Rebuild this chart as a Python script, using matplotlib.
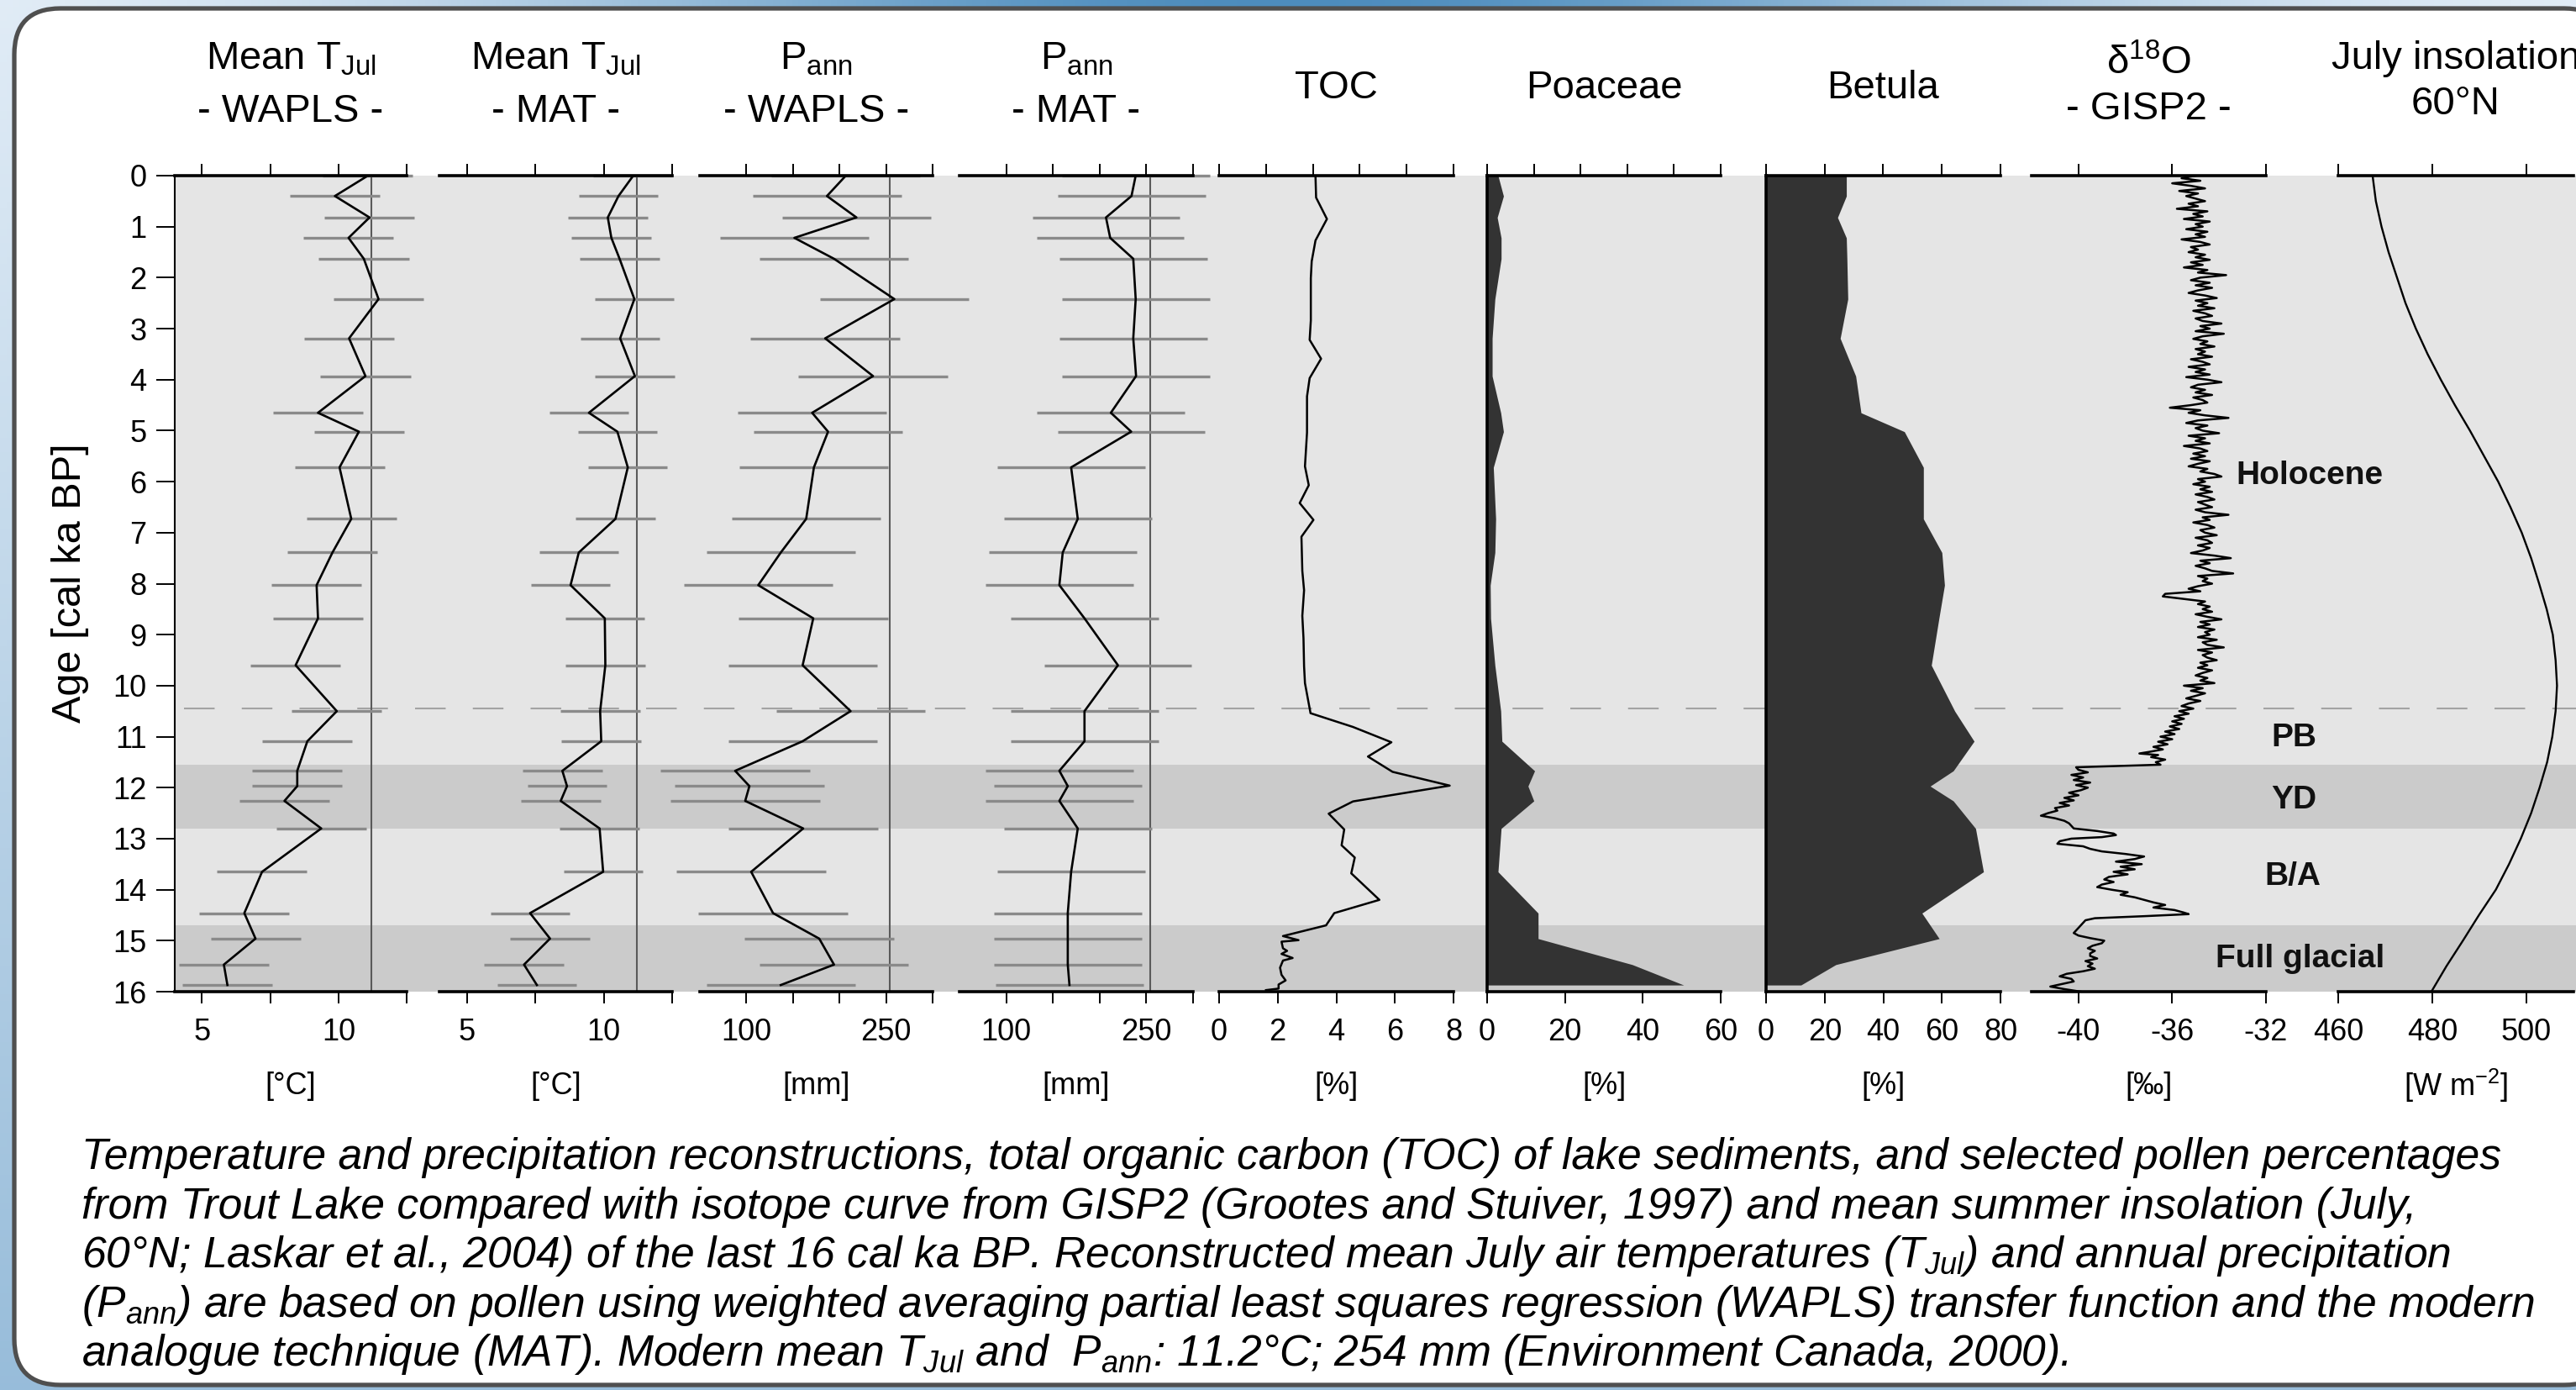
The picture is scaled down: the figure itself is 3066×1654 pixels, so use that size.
import numpy as np
import matplotlib
matplotlib.use("Agg")
import matplotlib.pyplot as plt
from matplotlib.patches import FancyBboxPatch

plt.rcParams["font.family"] = ["Liberation Sans", "DejaVu Sans"]
plt.rcParams["mathtext.fontset"] = "custom"
plt.rcParams["mathtext.rm"] = "Liberation Sans"
plt.rcParams["mathtext.it"] = "Liberation Sans:italic"
plt.rcParams["mathtext.bf"] = "Liberation Sans:bold"
plt.rcParams["mathtext.default"] = "regular"

# ---------------- data ----------------
# sample ages (cal ka BP) of the pollen samples / reconstructions
ages_recon = [0.0, 0.40, 0.82, 1.22, 1.63, 2.42, 3.19, 3.93, 4.65, 5.02, 5.72, 6.73, 7.39, 8.03,
              8.68, 9.60, 10.50, 11.09, 11.67, 11.97, 12.26, 12.80, 13.65, 14.46, 14.96, 15.47, 15.87]
tjul_wapls = [11.08, 9.87, 11.14, 10.37, 10.93, 11.47, 10.39, 10.99, 9.25, 10.75, 10.04, 10.47, 9.78, 9.20,
              9.25, 8.43, 9.94, 8.86, 8.49, 8.49, 8.02, 9.37, 7.20, 6.55, 6.96, 5.80, 5.93]
tjul_mat = [11.08, 10.54, 10.15, 10.28, 10.58, 11.12, 10.60, 11.14, 9.46, 10.50, 10.88, 10.43, 9.09, 8.79,
            10.04, 10.06, 9.87, 9.91, 8.49, 8.66, 8.43, 9.85, 9.98, 7.31, 8.04, 7.09, 7.56]
pann_wapls = [206.8, 186.5, 218.2, 151.5, 194.1, 258.9, 184.6, 236.0, 170.6, 187.7, 172.5, 164.2, 136.9, 112.7,
              171.8, 160.4, 211.9, 160.4, 87.9, 103.2, 98.7, 161.0, 105.1, 128.6, 178.2, 194.1, 136.9]
pann_mat = [238.6, 234.1, 206.8, 211.3, 236.0, 238.6, 236.0, 239.0, 212.0, 233.8, 169.5, 176.6, 160.5, 156.9,
            183.8, 219.6, 183.8, 183.8, 156.9, 165.9, 156.9, 176.6, 169.5, 165.9, 165.9, 165.9, 167.7]
err_tjul_wapls = 1.65
err_tjul_mat = 1.45
err_pann_wapls = 80.0
err_pann_mat = 79.0
modern_tjul = 11.2
modern_pann = 254.0

toc_age = [0.02, 0.43, 0.85, 1.27, 1.68, 2.01, 2.84, 3.22, 3.59, 3.97, 4.33, 5.04, 5.70, 6.07, 6.42, 6.75,
           7.08, 7.75, 8.13, 8.63, 9.07, 9.62, 9.95, 10.54, 10.81, 11.11, 11.39, 11.69, 11.96, 12.27, 12.51,
           12.82, 13.13, 13.37, 13.68, 14.20, 14.46, 14.70, 14.91, 14.99, 15.02, 15.15, 15.20, 15.26, 15.34,
           15.39, 15.53, 15.67, 15.78, 15.86, 15.94, 15.97]
toc_val = [3.29, 3.31, 3.68, 3.29, 3.16, 3.13, 3.13, 3.09, 3.48, 3.09, 3.00, 3.00, 2.93, 3.06, 2.75, 3.22,
           2.81, 2.84, 2.90, 2.84, 2.88, 2.90, 2.93, 3.12, 4.57, 5.88, 5.08, 5.92, 7.87, 4.57, 3.74,
           4.27, 4.18, 4.63, 4.51, 5.47, 3.93, 3.65, 2.18, 2.71, 2.13, 2.18, 2.32, 2.13, 2.51,
           2.18, 2.08, 2.13, 2.27, 2.03, 2.03, 1.60]

poaceae = [2.8, 4.2, 2.6, 3.6, 3.6, 2.0, 1.3, 1.3, 3.5, 4.2, 1.6, 2.2, 2.0, 0.8,
           0.9, 2.0, 3.5, 3.8, 12.2, 10.5, 12.0, 3.6, 2.8, 13.1, 13.1, 37.3, 50.5]
betula = [27.4, 27.4, 24.4, 27.4, 27.6, 27.9, 25.3, 30.6, 32.4, 47.2, 53.7, 53.7, 60.0, 60.9,
          59.0, 56.4, 64.4, 71.0, 63.9, 56.0, 63.9, 71.5, 74.2, 53.2, 59.1, 23.8, 11.9]

# GISP2 d18O: Holocene part sampled every 0.05 ka from 0 ka
d18o_holo_start = 0.0
d18o_holo_step = 0.05
d18o_holo = [
    -35.0, -35.6, -34.8, -36.0, -35.2, -34.6, -35.7, -34.9, -35.4, -35.0,
    -34.6, -35.3, -34.9, -35.8, -34.5, -35.1, -34.7, -35.5, -34.4, -35.0,
    -34.7, -35.4, -34.5, -35.0, -34.6, -35.6, -34.8, -34.4, -35.2, -34.9,
    -35.3, -34.6, -35.0, -34.4, -35.2, -34.7, -35.5, -34.5, -34.9, -33.7,
    -34.8, -35.2, -34.4, -35.0, -34.3, -34.9, -35.3, -34.6, -34.1, -35.0,
    -34.5, -34.9, -34.2, -35.1, -34.6, -34.3, -35.0, -34.7, -33.9, -34.8,
    -34.4, -35.0, -33.8, -34.7, -35.1, -34.5, -34.8, -34.2, -35.0, -34.6,
    -34.9, -34.3, -35.2, -34.7, -34.4, -35.3, -34.6, -35.0, -34.4, -35.4,
    -34.5, -33.9, -34.9, -35.2, -34.6, -35.0, -34.3, -35.1, -34.7, -34.5,
    -35.2, -36.1, -34.8, -35.3, -34.6, -33.6, -34.9, -35.4, -34.5, -35.0,
    -34.7, -34.0, -35.3, -34.6, -35.0, -34.4, -35.5, -34.8, -34.5, -35.1,
    -34.6, -35.2, -34.4, -34.9, -35.3, -34.5, -34.8, -34.2, -33.9, -34.9,
    -34.6, -35.1, -34.4, -34.8, -34.3, -35.0, -34.5, -34.2, -34.9, -34.6,
    -34.3, -35.0, -34.6, -33.6, -34.7, -34.4, -35.1, -34.5, -34.2, -34.8,
    -34.6, -34.1, -35.0, -34.5, -34.3, -34.9, -34.4, -34.7, -35.2, -34.2,
    -33.5, -34.8, -34.4, -35.0, -34.6, -34.3, -33.4, -34.9, -34.5, -34.7,
    -34.3, -34.9, -35.3, -34.8, -36.3, -36.4, -35.5, -34.6, -34.9, -34.4,
    -34.7, -34.3, -35.0, -34.5, -33.9, -34.8, -34.4, -34.9, -34.2, -34.6,
    -34.4, -34.9, -34.1, -34.7, -34.5, -33.8, -34.9, -34.3, -34.7, -34.5,
    -34.1, -34.8, -34.5, -34.9, -34.3, -34.7, -35.0, -34.5, -34.8, -34.2,
    -35.5, -34.7, -35.2, -34.6, -35.0, -35.4, -34.8, -35.3, -35.6]
# GISP2 d18O: late glacial part
d18o_lg_age = [10.45, 10.50, 10.55, 10.60, 10.65, 10.70, 10.75, 10.80, 10.85, 10.90, 10.95, 11.00, 11.05,
               11.10, 11.15, 11.20, 11.25, 11.30, 11.33, 11.36, 11.40, 11.45, 11.50, 11.55, 11.60, 11.65,
               11.70, 11.75, 11.80, 11.85, 11.90, 11.95, 12.00, 12.05, 12.10, 12.15, 12.20, 12.25, 12.30,
               12.35, 12.40, 12.45, 12.50, 12.55, 12.60, 12.65, 12.70, 12.75, 12.80, 12.85, 12.90, 12.93,
               12.97, 13.00, 13.05, 13.10, 13.15, 13.20, 13.25, 13.30, 13.35, 13.40, 13.45, 13.50, 13.55,
               13.60, 13.65, 13.70, 13.75, 13.80, 13.85, 13.90, 13.95, 14.00, 14.05, 14.10, 14.15, 14.20,
               14.25, 14.30, 14.35, 14.40, 14.45, 14.48, 14.52, 14.56, 14.60, 14.65, 14.70, 14.75, 14.80,
               14.85, 14.90, 14.95, 15.00, 15.05, 15.10, 15.15, 15.20, 15.25, 15.30, 15.35, 15.40, 15.45,
               15.50, 15.55, 15.60, 15.65, 15.70, 15.75, 15.80, 15.85, 15.90, 15.95, 16.00]
d18o_lg_val = [-35.1, -35.7, -35.3, -35.9, -35.5, -36.0, -35.6, -36.1, -35.7, -36.3, -35.9, -36.5, -36.0,
               -36.6, -36.2, -36.8, -36.4, -37.0, -37.4, -36.6, -36.9, -36.3, -36.7, -36.5, -40.1, -40.0,
               -39.6, -40.3, -39.8, -40.2, -39.5, -40.1, -39.6, -39.9, -40.4, -40.0, -40.6, -40.2, -40.8,
               -40.4, -41.0, -40.9, -41.3, -41.6, -41.0, -40.6, -40.4, -40.3, -40.2, -39.2, -38.5, -38.4,
               -39.0, -40.3, -40.8, -40.9, -39.8, -39.5, -39.0, -38.0, -37.2, -37.6, -38.4, -37.3, -38.2,
               -37.6, -38.5, -37.9, -38.7, -38.9, -38.5, -39.0, -39.2, -38.6, -37.9, -38.2, -37.6, -37.2,
               -36.8, -36.3, -36.8, -35.9, -35.5, -35.3, -37.2, -39.3, -39.7, -39.8, -39.9, -40.0, -40.1,
               -40.2, -40.0, -39.5, -38.9, -39.0, -39.4, -39.6, -39.3, -39.5, -39.5, -39.2, -39.7, -39.4,
               -39.6, -39.3, -39.8, -40.5, -40.8, -40.3, -40.2, -40.7, -41.2, -40.6, -39.9]

insol_age = [0.0, 0.5, 1.0, 1.5, 2.0, 2.5, 3.0, 3.5, 4.0, 4.5, 5.0, 5.5, 6.0, 6.5, 7.0, 7.5, 8.0,
             8.5, 9.0, 9.5, 10.0, 10.5, 11.0, 11.5, 12.0, 12.5, 13.0, 13.5, 14.0, 14.5, 15.0, 15.5, 16.0]
insol_val = [467.3, 468.0, 469.2, 470.7, 472.5, 474.3, 476.5, 479.0, 481.8, 484.8, 488.0, 491.0, 494.0,
             496.6, 499.0, 501.0, 502.7, 504.3, 505.6, 506.2, 506.5, 506.2, 505.5, 504.4, 502.8, 501.0,
             498.8, 496.3, 493.5, 489.9, 486.5, 483.0, 479.8]

zone_dark = [(11.55, 12.80), (14.70, 16.0)]
dashed_boundary = 10.45
zone_names = ["Holocene", "PB", "YD", "B/A", "Full glacial"]
zone_label_age = [5.89, 11.03, 12.24, 13.74, 15.36]

# ---------------- figure ----------------
W, H, DPI = 3066, 1654, 100
fig = plt.figure(figsize=(W / DPI, H / DPI), dpi=DPI)
fig.patch.set_facecolor("white")

gax = fig.add_axes([0, 0, 1, 1], zorder=-10)
gx = np.linspace(0, 1, 400)
gy = np.linspace(0, 1, 200)
GX, GY = np.meshgrid(gx, gy)
tval = np.clip(0.95 * np.exp(-((GX - 0.5) / 0.3) ** 2) * (1 - GY) + 0.5 * GY, 0, 1)
c_light = np.array([0.92, 0.95, 0.98])
c_dark = np.array([0.27, 0.53, 0.73])
gimg = c_light + (c_dark - c_light) * tval[..., None]
gax.imshow(gimg, extent=[0, 1, 0, 1], aspect="auto", origin="upper")
gax.set_axis_off()

frame = FancyBboxPatch((0.17, 0.06), 30.9, 16.38,
                       boxstyle="round,pad=0,rounding_size=0.55",
                       transform=fig.dpi_scale_trans, facecolor="white",
                       edgecolor="#4f4f4f", linewidth=3.8, zorder=-5)
fig.add_artist(frame)

PT, PB = 209, 1180
BGL, BGR = 208, 3066

bg = fig.add_axes([BGL / W, 1 - PB / H, (BGR - BGL) / W, (PB - PT) / H], zorder=0)
bg.set_xlim(BGL, BGR)
bg.set_ylim(16, 0)
bg.set_axis_off()
bg.axhspan(0, 16, color="#e5e5e5", lw=0)
for z0, z1 in zone_dark:
    bg.axhspan(z0, z1, color="#cbcbcb", lw=0)
bg.axhline(dashed_boundary, xmin=0.004, xmax=1, color="#a3a3a3", lw=1.5, dashes=(17.5, 15.5))

era_x = [2749, 2730, 2730, 2729, 2738]
for name, a, xx in zip(zone_names, zone_label_age, era_x):
    bg.text(xx, a, name, ha="center", va="center", fontsize=28, fontweight="bold", color="#111111")


def add_panel(x0, x1, xlim, bticks, blabels, tticks, left_lw=None):
    ax = fig.add_axes([x0 / W, 1 - PB / H, (x1 - x0) / W, (PB - PT) / H], zorder=2)
    ax.patch.set_visible(False)
    ax.set_xlim(*xlim)
    ax.set_ylim(16, 0)
    for s in ("top", "right"):
        ax.spines[s].set_visible(False)
    if left_lw is None:
        ax.spines["left"].set_visible(False)
    else:
        ax.spines["left"].set_linewidth(left_lw)
    ax.spines["bottom"].set_linewidth(2.6)
    ax.set_xticks(bticks)
    ax.set_xticklabels(blabels)
    ax.tick_params(axis="x", direction="out", length=10, width=1.4, labelsize=26, pad=12)
    ax.tick_params(axis="y", left=False, labelleft=False)
    top = ax.twiny()
    top.set_xlim(*xlim)
    for s in ("bottom", "left", "right"):
        top.spines[s].set_visible(False)
    top.spines["top"].set_linewidth(2.6)
    top.set_xticks(tticks)
    top.set_xticklabels([])
    top.tick_params(axis="x", direction="out", length=10, width=1.4)
    return ax


panel_x = [(208, 484), (523, 800), (833, 1110), (1142, 1420), (1451, 1730),
           (1770, 2048), (2102, 2381), (2418, 2697), (2783, 3063)]

ax1 = add_panel(*panel_x[0], (4, 12.5), [5, 7.5, 10, 12.5], ["5", "", "10", ""], [5, 7.5, 10, 12.5], left_lw=1.5)
ax1.set_yticks(range(0, 17))
ax1.tick_params(axis="y", left=True, labelleft=True, direction="out", length=16, width=1.4,
                labelsize=26, pad=8)
ax2 = add_panel(*panel_x[1], (4, 12.5), [5, 7.5, 10, 12.5], ["5", "", "10", ""], [5, 7.5, 10, 12.5])
ax3 = add_panel(*panel_x[2], (50, 300), [100, 150, 200, 250, 300], ["100", "", "", "250", ""],
                [100, 150, 200, 250, 300])
ax4 = add_panel(*panel_x[3], (50, 300), [100, 150, 200, 250, 300], ["100", "", "", "250", ""],
                [100, 150, 200, 250, 300])
ax5 = add_panel(*panel_x[4], (0, 8), [0, 2, 4, 6, 8], ["0", "2", "4", "6", "8"],
                [0, 1.6, 3.2, 4.8, 6.4, 8])
ax6 = add_panel(*panel_x[5], (0, 60), [0, 20, 40, 60], ["0", "20", "40", "60"],
                [0, 12, 24, 36, 48, 60], left_lw=2.6)
ax7 = add_panel(*panel_x[6], (0, 80), [0, 20, 40, 60, 80], ["0", "20", "40", "60", "80"],
                [0, 20, 40, 60, 80], left_lw=2.6)
ax8 = add_panel(*panel_x[7], (-42, -32), [-40, -36, -32], ["-40", "-36", "-32"], [-40, -36, -32])
ax9 = add_panel(*panel_x[8], (460, 510), [460, 480, 500], ["460", "480", "500"], [460, 480, 500])

ages = np.array(ages_recon)
for ax, vals, err, ref in [(ax1, tjul_wapls, err_tjul_wapls, modern_tjul),
                           (ax2, tjul_mat, err_tjul_mat, modern_tjul),
                           (ax3, pann_wapls, err_pann_wapls, modern_pann),
                           (ax4, pann_mat, err_pann_mat, modern_pann)]:
    v = np.array(vals)
    ax.axvline(ref, color="#5a5a5a", lw=1.5, zorder=1)
    ax.hlines(ages, v - err, v + err, colors="#8a8a8a", lw=2.4, zorder=2, clip_on=False)
    ax.plot(v, ages, color="black", lw=1.9, zorder=3)

ax5.plot(toc_val, toc_age, color="black", lw=1.8)
ax6.fill_betweenx(ages, 0, poaceae, color="#333333", lw=0)
ax7.fill_betweenx(ages, 0, betula, color="#333333", lw=0)

d18o_age = np.concatenate([d18o_holo_start + d18o_holo_step * np.arange(len(d18o_holo)), d18o_lg_age])
d18o_val = np.concatenate([d18o_holo, d18o_lg_val])
ax8.plot(d18o_val, d18o_age, color="black", lw=1.8)
ax9.plot(insol_val, insol_age, color="black", lw=1.7)


def ftext(x, y, s, **kw):
    fig.text(x / W, 1 - y / H, s, **kw)


title_kw = dict(ha="center", va="baseline", fontsize=34)
centers = [(a + b) / 2 for a, b in panel_x]
titles = [
    [("Mean T$_{Jul}$", 82), ("- WAPLS -", 145)],
    [("Mean T$_{Jul}$", 82), ("- MAT -", 145)],
    [("P$_{ann}$", 82), ("- WAPLS -", 145)],
    [("P$_{ann}$", 82), ("- MAT -", 145)],
    [("TOC", 117)],
    [("Poaceae", 117)],
    [("Betula", 117)],
    [("δ$^{18}$O", 88), ("- GISP2 -", 142)],
    [("July insolation", 82), ("60°N", 136)],
]
for cx, lines in zip(centers, titles):
    for s, yb in lines:
        ftext(cx, yb, s, **title_kw)

units = ["[°C]", "[°C]", "[mm]", "[mm]", "[%]", "[%]", "[%]", "[‰]", "[W m$^{-2}$]"]
for cx, u in zip(centers, units):
    ftext(cx, 1292, u, ha="center", va="center", fontsize=26)

ftext(84, 694, "Age [cal ka BP]", rotation=90, ha="center", va="center", fontsize=35)

caption = [
    "Temperature and precipitation reconstructions, total organic carbon (TOC) of lake sediments, and selected pollen percentages",
    "from Trout Lake compared with isotope curve from GISP2 (Grootes and Stuiver, 1997) and mean summer insolation (July,",
    "60°N; Laskar et al., 2004) of the last 16 cal ka BP. Reconstructed mean July air temperatures (T$_{Jul}$) and annual precipitation",
    "(P$_{ann}$) are based on pollen using weighted averaging partial least squares regression (WAPLS) transfer function and the modern",
    "analogue technique (MAT). Modern mean T$_{Jul}$ and  P$_{ann}$: 11.2°C; 254 mm (Environment Canada, 2000).",
]
for i, line in enumerate(caption):
    ftext(97, 1391 + 58.6 * i, line, ha="left", va="baseline", fontsize=37.2, style="italic")

fig.savefig("out.png", dpi=DPI)
